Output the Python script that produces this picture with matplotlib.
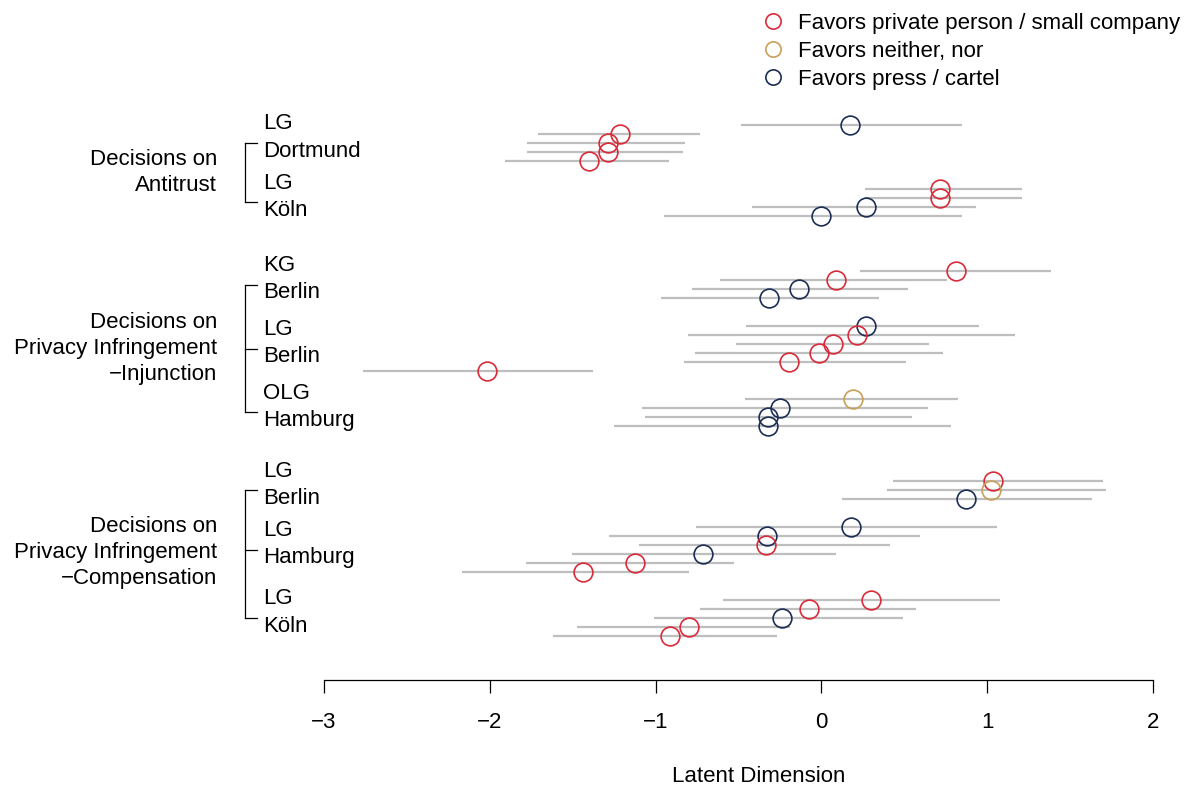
import numpy as np
import matplotlib

matplotlib.use("Agg")
import matplotlib.pyplot as plt
from matplotlib.lines import Line2D

plt.rcParams["font.family"] = ["Liberation Sans", "DejaVu Sans"]

# ── 데이터 ──
group_labels = [
    "Decisions on\nAntitrust",
    "Decisions on\nPrivacy Infringement\n\u2212Injunction",
    "Decisions on\nPrivacy Infringement\n\u2212Compensation",
]
court_labels = ["LG\nDortmund", "LG\nKöln", "KG\nBerlin", "LG\nBerlin",
                "OLG\nHamburg", "LG\nBerlin", "LG\nHamburg", "LG\nKöln"]
court_group = [0, 0, 1, 1, 1, 2, 2, 2]

# 결정별: 법원 번호, 추정치, 하한, 상한, 결과(0=private, 1=neither, 2=press)
dec_court = [0, 0, 0, 0, 0,
             1, 1, 1, 1,
             2, 2, 2, 2,
             3, 3, 3, 3, 3, 3,
             4, 4, 4, 4,
             5, 5, 5,
             6, 6, 6, 6, 6, 6,
             7, 7, 7, 7, 7]
estimate = [0.173, -1.215, -1.29, -1.29, -1.40,
            0.717, 0.715, 0.267, -0.004,
            0.814, 0.088, -0.135, -0.314,
            0.269, 0.213, 0.072, -0.013, -0.194, -2.019,
            0.189, -0.250, -0.320, -0.324,
            1.037, 1.025, 0.870,
            0.177, -0.328, -0.336, -0.714, -1.124, -1.440,
            0.299, -0.075, -0.236, -0.801, -0.913]
lower = [-0.485, -1.71, -1.776, -1.776, -1.908,
         0.265, 0.265, -0.419, -0.947,
         0.235, -0.61, -0.782, -0.969,
         -0.457, -0.803, -0.517, -0.762, -0.829, -2.765,
         -0.461, -1.084, -1.064, -1.249,
         0.430, 0.394, 0.122,
         -0.758, -1.279, -1.100, -1.502, -1.782, -2.166,
         -0.592, -0.730, -1.008, -1.472, -1.619]
upper = [0.848, -0.732, -0.823, -0.832, -0.919,
         1.207, 1.209, 0.932, 0.848,
         1.383, 0.759, 0.524, 0.347,
         0.949, 1.170, 0.647, 0.731, 0.510, -1.378,
         0.826, 0.645, 0.548, 0.780,
         1.700, 1.715, 1.630,
         1.061, 0.595, 0.412, 0.086, -0.529, -0.797,
         1.077, 0.572, 0.492, -0.188, -0.270]
outcome = [2, 0, 0, 0, 0,
           0, 0, 2, 2,
           0, 0, 2, 2,
           2, 0, 0, 0, 0, 0,
           1, 2, 2, 2,
           0, 1, 2,
           2, 2, 0, 2, 0, 0,
           0, 0, 2, 0, 0]
outcome_labels = ["Favors private person / small company",
                  "Favors neither, nor",
                  "Favors press / cartel"]
outcome_colors = ["#D92B3A", "#C9A05A", "#1C2E55"]

# ── 행 위치: 법원 사이 2행, 그룹 사이 5행 공백 ──
rows = []
row = 0
prev_court = None
for c in dec_court:
    if prev_court is not None and c != prev_court:
        row += 6 if court_group[c] != court_group[prev_court] else 3
    elif prev_court is not None:
        row += 1
    rows.append(row)
    prev_court = c
rows = np.array(rows)

court_mid = [rows[np.array(dec_court) == k].mean() for k in range(len(court_labels))]

# ── 그림 ──
W, H = 1186, 786
fig = plt.figure(figsize=(W / 100, H / 100), dpi=100)
row_px = 9.136
y_top = -2
y_bot = (680 - 124.7) / row_px
top_px = 124.7 + y_top * row_px
ax = fig.add_axes([324 / W, 1 - 680 / H, (1153 - 324) / W, (680 - top_px) / H])
ax.set_xlim(-3, 2)
ax.set_ylim(y_bot, y_top)

for i in range(len(rows)):
    ax.plot([lower[i], upper[i]], [rows[i], rows[i]], color="#BEBEBE", lw=1.6,
            solid_capstyle="butt", zorder=1)
for i in range(len(rows)):
    ax.plot(estimate[i], rows[i], "o", ms=13.5, mfc="none", mew=1.2,
            mec=outcome_colors[outcome[i]], zorder=2)

# 축
for s in ["left", "top", "right"]:
    ax.spines[s].set_visible(False)
ax.spines["bottom"].set_bounds(-3, 2)
ax.spines["bottom"].set_linewidth(0.9)
ax.set_xticks(range(-3, 3))
ax.set_xticklabels(["\u22123", "\u22122", "\u22121", "0", "1", "2"])
ax.tick_params(axis="x", length=9.4, width=0.9, labelsize=16, pad=14)
ax.set_yticks([])
fig.text(759 / W, 1 - 777 / H, "Latent Dimension", ha="center", va="center", fontsize=16)

# 왼쪽 라벨 / 괄호
def px2x(px):
    return -3 + (px - 324) / 165.8

x_br = px2x(245)
x_tick = px2x(257)
x_court = px2x(263)
x_group = px2x(217)
for g, glab in enumerate(group_labels):
    mids = [court_mid[k] for k in range(len(court_labels)) if court_group[k] == g]
    ax.plot([x_br, x_br], [mids[0], mids[-1]], color="black", lw=0.9, clip_on=False)
    for m in mids:
        ax.plot([x_br, x_tick], [m, m], color="black", lw=0.9, clip_on=False)
    lines = glab.split("\n")
    gc = np.mean(mids)
    step = 26 / row_px
    for j, ln in enumerate(lines):
        ax.text(x_group, gc + (j - (len(lines) - 1) / 2) * step, ln, ha="right",
                va="center", fontsize=16, clip_on=False)

for k, clab in enumerate(court_labels):
    top, bot = clab.split("\n")
    c = court_mid[k] - 0.6
    ax.text(x_court, c - 1.49, top, ha="left", va="center", fontsize=16, clip_on=False)
    ax.text(x_court, c + 1.49, bot, ha="left", va="center", fontsize=16, clip_on=False)

# 범례
handles = [Line2D([], [], marker="o", ls="none", ms=11, mfc="none", mew=1.2,
                  mec=col) for col in outcome_colors]
fig.legend(handles, outcome_labels, loc="upper left", bbox_to_anchor=(762 / W, 1 - 12.5 / H),
           frameon=False, fontsize=16, handlelength=1.0, handletextpad=0.6,
           labelspacing=0.32, borderpad=0, borderaxespad=0)

fig.savefig("out.png", dpi=100)
